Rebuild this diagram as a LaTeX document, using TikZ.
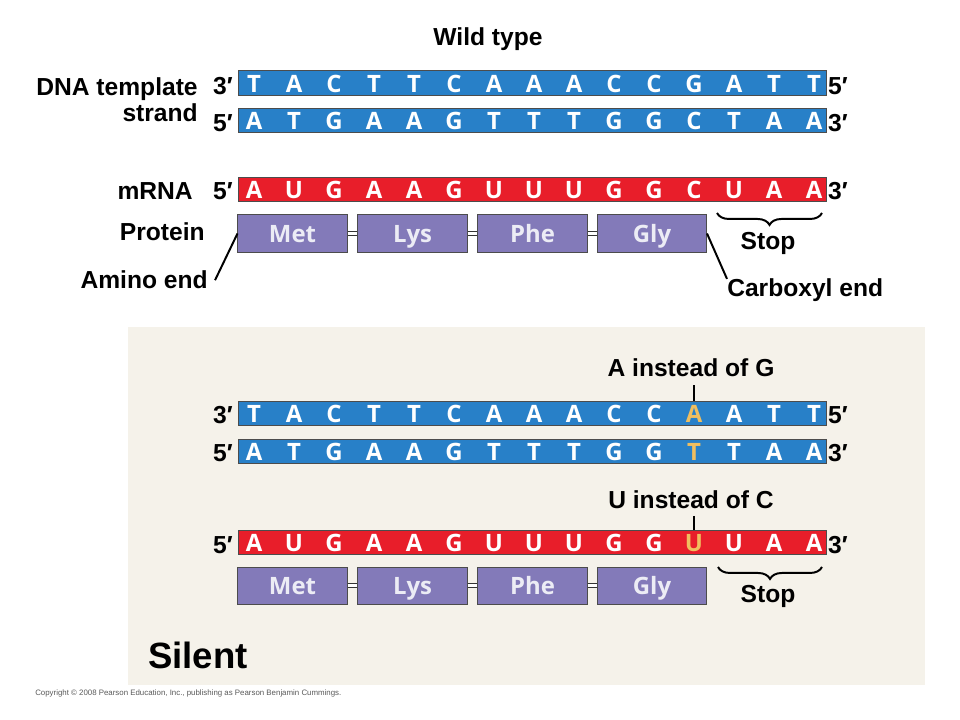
\documentclass[tikz,border=0pt]{standalone}
\usepackage{fontspec}
\setmainfont{Liberation Sans}
\newfontfamily\basefont{Open Sans}
\usetikzlibrary{decorations.pathreplacing}

\definecolor{dnablue}{RGB}{40,128,200}
\definecolor{rnared}{RGB}{232,30,42}
\definecolor{aapurple}{RGB}{131,122,185}
\definecolor{aatext}{RGB}{236,236,245}
\definecolor{mutyellow}{RGB}{240,190,95}
\definecolor{panelbg}{RGB}{245,242,234}

\begin{document}
\begin{tikzpicture}[x=0.025cm,y=-0.025cm]

		\tikzset{strand/.style = {shape=rectangle,draw=black!70,line width=0.7pt,minimum width=14.675cm,minimum height=0.6cm,inner sep=0pt}}
		\tikzset{base/.style = {text=white,font=\basefont\bfseries\fontsize{17}{17}\selectfont,inner sep=0pt}}
		\tikzset{aa/.style = {shape=rectangle,draw=black!70,fill=aapurple,line width=0.7pt,minimum width=2.725cm,minimum height=0.925cm,inner sep=0pt,text height=13.5pt,text depth=0pt,text=aatext,font=\basefont\bfseries\fontsize{17}{17}\selectfont}}
		\tikzset{lbl/.style = {font=\bfseries\fontsize{17.5}{21}\selectfont,inner sep=0pt}}
		\tikzset{bond/.style = {draw=black!80,double=white,double distance=2.4pt,line width=0.8pt}}
		\tikzset{pointer/.style = {line width=1.4pt}}
		\tikzset{brc/.style = {decorate,decoration={brace,amplitude=8.5pt,mirror},line width=1.4pt}}

		\useasboundingbox (0,0) rectangle (960,720);
		% panel
		\fill[panelbg] (128,327) rectangle (925,685);

		% wild type strands
		\node[lbl,anchor=base] (wild) at (488,46) {Wild type};
		\node[strand,fill=dnablue] (tmpl) at (532.5,83) {};
		\node[strand,fill=dnablue] (coding) at (532.5,120.5) {};
		\node[strand,fill=rnared] (rna) at (532.5,189.5) {};
		\foreach \b [count=\i from 0] in {T,A,C,T,T,C,A,A,A,C,C,G,A,T,T}
			\node[base] (tmpl\i) at ({254+40*\i},83.5) {\b};
		\foreach \b [count=\i from 0] in {A,T,G,A,A,G,T,T,T,G,G,C,T,A,A}
			\node[base] (coding\i) at ({254+40*\i},121) {\b};
		\foreach \b [count=\i from 0] in {A,U,G,A,A,G,U,U,U,G,G,C,U,A,A}
			\node[base] (rna\i) at ({254+40*\i},190) {\b};

		% ends and labels
		\node[lbl,anchor=base] (tmplL) at (223,95) {3′};
		\node[lbl,anchor=base] (codingL) at (223,132) {5′};
		\node[lbl,anchor=base] (rnaL) at (223,200) {5′};
		\node[lbl,anchor=base] (tmplR) at (838,95) {5′};
		\node[lbl,anchor=base] (codingR) at (838,132) {3′};
		\node[lbl,anchor=base] (rnaR) at (838,200) {3′};
		\node[lbl,anchor=base east] (dnalbl) at (198,96) {DNA template};
		\node[lbl,anchor=base east] (strandlbl) at (198,122) {strand};
		\node[lbl,anchor=base east] (rnalbl) at (193,200) {mRNA};
		\node[lbl,anchor=base east] (protlbl) at (205,241) {Protein};
		\node[lbl,anchor=base east] (amino) at (208,289) {Amino end};
		\node[lbl,anchor=base west] (carb) at (727,297) {Carboxyl end};
		\node[lbl,anchor=base] (stop) at (768,250) {Stop};

		% protein
		\node[aa] (met) at (292.5,233.5) {Met};
		\node[aa] (lys) at (412.5,233.5) {Lys};
		\node[aa] (phe) at (532.5,233.5) {Phe};
		\node[aa] (gly) at (652,233.5) {Gly};
		\draw[bond] (met) -- (lys);
		\draw[bond] (lys) -- (phe);
		\draw[bond] (phe) -- (gly);
		\draw[pointer] (met.west) -- ([xshift=5pt]amino.east);
		\draw[pointer] (gly.east) -- (carb.north west);
		\coordinate (stopa) at (717,213);
		\coordinate (stopb) at (822,213);
		\draw[brc] (stopa) -- (stopb);

		% silent mutation
		\node[lbl,anchor=base] (ainst) at (691,377) {A instead of G};
		\node[strand,fill=dnablue] (mtmpl) at (532.5,413.5) {};
		\node[strand,fill=dnablue] (mcoding) at (532.5,451) {};
		\node[lbl,anchor=base] (uinst) at (691,509) {U instead of C};
		\node[strand,fill=rnared] (mrna) at (532.5,542.5) {};
		\foreach \b/\c [count=\i from 0] in {T/white,A/white,C/white,T/white,T/white,C/white,A/white,A/white,A/white,C/white,C/white,A/mutyellow,A/white,T/white,T/white}
			\node[base,text=\c] (mtmpl\i) at ({254+40*\i},414) {\b};
		\foreach \b/\c [count=\i from 0] in {A/white,T/white,G/white,A/white,A/white,G/white,T/white,T/white,T/white,G/white,G/white,T/mutyellow,T/white,A/white,A/white}
			\node[base,text=\c] (mcoding\i) at ({254+40*\i},451.5) {\b};
		\foreach \b/\c [count=\i from 0] in {A/white,U/white,G/white,A/white,A/white,G/white,U/white,U/white,U/white,G/white,G/white,U/mutyellow,U/white,A/white,A/white}
			\node[base,text=\c] (mrna\i) at ({254+40*\i},543) {\b};
		\draw[pointer,shorten <=5.5pt] (ainst.south -| mtmpl11) -- (mtmpl11 |- mtmpl.north);
		\draw[pointer,shorten <=4.5pt] (uinst.south -| mrna11) -- (mrna11 |- mrna.north);

		\node[lbl,anchor=base] (mtmplL) at (223,424) {3′};
		\node[lbl,anchor=base] (mcodingL) at (223,462) {5′};
		\node[lbl,anchor=base] (mrnaL) at (223,553) {5′};
		\node[lbl,anchor=base] (mtmplR) at (838,424) {5′};
		\node[lbl,anchor=base] (mcodingR) at (838,462) {3′};
		\node[lbl,anchor=base] (mrnaR) at (838,553) {3′};

		\node[aa] (mmet) at (292.5,585.5) {Met};
		\node[aa] (mlys) at (412.5,585.5) {Lys};
		\node[aa] (mphe) at (532.5,585.5) {Phe};
		\node[aa] (mgly) at (652,585.5) {Gly};
		\draw[bond] (mmet) -- (mlys);
		\draw[bond] (mlys) -- (mphe);
		\draw[bond] (mphe) -- (mgly);
		\coordinate (mstopa) at (718,567);
		\coordinate (mstopb) at (822,567);
		\draw[brc] (mstopa) -- (mstopb);
		\node[lbl,anchor=base] (mstop) at (768,602) {Stop};

		\node[font=\bfseries\fontsize{26}{30}\selectfont,anchor=base west,inner sep=0pt] (silent) at (148,668) {Silent};
		\node[font=\fontsize{5.6}{6}\selectfont,text=black!65,anchor=base west,inner sep=0pt] (copy) at (35,695) {Copyright \textcopyright{} 2008 Pearson Education, Inc., publishing as Pearson Benjamin Cummings.};
\end{tikzpicture}
\end{document}
